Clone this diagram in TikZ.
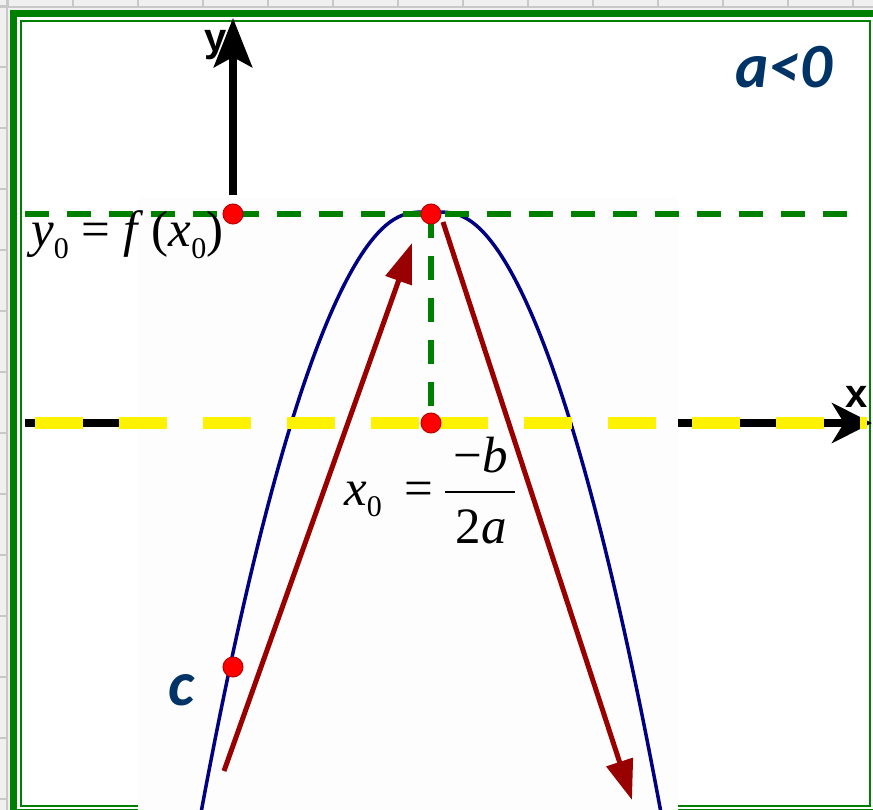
\documentclass[tikz,border=0pt]{standalone}
\usepackage{fontspec}
\setmainfont{Liberation Serif}
\newfontfamily\calibrifont{Carlito}
\newfontfamily\arialfont{Liberation Sans}
\usetikzlibrary{arrows.meta}

\definecolor{framegreen}{RGB}{0,128,0}
\definecolor{curvenavy}{RGB}{0,0,128}
\definecolor{arrowred}{RGB}{153,0,0}
\definecolor{textblue}{RGB}{0,51,102}
\definecolor{dotred}{RGB}{255,0,0}
\definecolor{dotrim}{RGB}{190,0,0}
\definecolor{brickfill}{RGB}{240,240,240}
\definecolor{brickline}{RGB}{200,200,200}
\definecolor{pastewhite}{RGB}{253,253,253}
\newcommand\subnum[1]{\raisebox{-0.22em}{\fontsize{30}{30}\selectfont #1}}

\begin{document}
\begin{tikzpicture}[x=1pt, y=-1pt,
  dot/.style={circle, draw=dotrim, fill=dotred, line width=1pt, minimum size=20pt, inner sep=0pt},
  axis/.style={line width=8pt, black},
  guide/.style={line width=6pt, framegreen, dash pattern=on 24pt off 18pt},
  xdash/.style={line width=12pt, yellow, dash pattern=on 48pt off 36pt},
  slope/.style={line width=5pt, arrowred, -{Triangle[length=40pt, width=27pt]}},
  mathlbl/.style={inner sep=0pt, font=\fontsize{51}{51}\selectfont},
  bluelbl/.style={inner sep=0pt, text=textblue, font=\calibrifont\bfseries\itshape\fontsize{63}{63}\selectfont},
  axislbl/.style={inner sep=0pt, font=\arialfont\bfseries\fontsize{40}{40}\selectfont},
]
\useasboundingbox (0,0) rectangle (873,810);
\clip (0,0) rectangle (873,810);

% === Background and frame ===
\fill[brickfill] (0,0) rectangle (873,810);
\foreach \bx in {8,73,...,873} \draw[brickline, line width=1.5pt] (\bx,0) -- (\bx,7);
\foreach \by in {6,67,...,810} \draw[brickline, line width=1.5pt] (0,\by) -- (7,\by);
\draw[brickline, line width=1.5pt] (0,7) -- (873,7) (7,0) -- (7,810);
\fill[white] (17,17) rectangle (873,810);
\draw[framegreen, line width=7pt] (13.5,13.5) rectangle (877,812);
\draw[framegreen, line width=2pt] (20.5,21.5) rectangle (869.5,805.5);

% === Points ===
\coordinate (yzero) at (233,214);
\coordinate (peak) at (431,214);
\coordinate (xzero) at (431,423);
\coordinate (cpt) at (233,667);

% === Axes ===
\coordinate (xaxl) at (25,423);
\coordinate (xaxr) at (872,423);
\coordinate (yaxb) at (233,195);
\coordinate (yaxt) at (233,18);
\draw[axis, -{Stealth[length=40pt, width=40pt, inset=12pt]}] (xaxl) -- (xaxr);
\draw[axis, -{Stealth[length=49pt, width=38pt, inset=10pt]}] (yaxb) -- (yaxt);

% pasted graph area
\fill[pastewhite] (138,197) rectangle (678,810);

% === Parabola ===
\draw[curvenavy, line width=3.5pt] plot[domain=200:662, samples=150]
  (\x, {212+117*((\x-431)/100)^4/(((\x-431)/100)^2+0.16)});

% === Dashed lines ===
\draw[xdash] (35,423) -- (419,423);
\draw[xdash] (440,423) -- (867,423);
\coordinate (gl) at (25,214);
\coordinate (gr) at (847,214);
\draw[guide] (gl) -- (gr);
\draw[guide] (peak) -- (xzero);

% === Increase / decrease arrows ===
\coordinate (upstart) at (224,771);
\coordinate (uptip) at (412,243);
\coordinate (downstart) at (443,222);
\coordinate (downtip) at (632,800);
\draw[slope] (upstart) -- (uptip);
\draw[slope] (downstart) -- (downtip);

\foreach \p in {yzero,peak,xzero,cpt} \node[dot] (\p dot) at (\p) {};

% === Labels ===
\node[axislbl, anchor=base] (ylbl) at (216,52) {y};
\node[axislbl, anchor=base] (xlbl) at (857,407) {x};
\node[bluelbl, anchor=base] (sign) at (784,88) {a<0};
\node[bluelbl, anchor=base] (clbl) at (181,705) {c};
\node[mathlbl, anchor=base west] (ylev) at (31,247) {\textit{y}\subnum{0} = \textit{f}\,(\textit{x}\subnum{0})};
\node[mathlbl, anchor=base west] (xlev) at (344,505) {\textit{x}\subnum{0}\hspace{0.45em}=};
\node[mathlbl, anchor=base] (numer) at (481,472) {−\textit{b}};
\node[mathlbl, anchor=base] (denom) at (481,543) {2\textit{a}};
\draw[line width=2.5pt] (445,492) -- (515,492);

\end{tikzpicture}
\end{document}
